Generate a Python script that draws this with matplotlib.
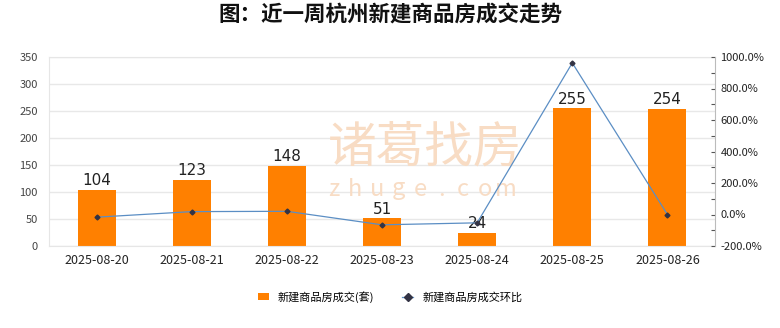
import matplotlib.pyplot as plt
import numpy as np
from matplotlib.ticker import FuncFormatter, MultipleLocator

plt.rcParams['font.family'] = ['Noto Sans CJK SC', 'DejaVu Sans']

dates = ["2025-08-20", "2025-08-21", "2025-08-22", "2025-08-23",
         "2025-08-24", "2025-08-25", "2025-08-26"]
deals = [104, 123, 148, 51, 24, 255, 254]
ratio = [-17.0, 18.3, 20.3, -65.5, -52.9, 962.5, -0.4]

fig = plt.figure(figsize=(7.8, 3.28), dpi=100)
ax = fig.add_axes([49 / 780, 1 - 246 / 328, (715 - 49) / 780, (246 - 57) / 328])
ax2 = ax.twinx()

x = np.arange(len(dates))
ax.bar(x, deals, width=0.4, color="#ff8000", zorder=2, label="新建商品房成交(套)")
for xi, v in zip(x, deals):
    ax.text(xi, v + 3, str(v), ha="center", va="bottom", fontsize=11,
            color="#222222", family="DejaVu Sans", zorder=4)

ax.set_xlim(-0.5, 6.5)
ax.set_ylim(0, 350)
ax.yaxis.set_major_locator(MultipleLocator(50))
ax.set_xticks(x)
ax.set_xticklabels(dates, fontsize=9, color="#222222")
ax.tick_params(axis="y", labelsize=8, colors="#444444", length=0, pad=8)
ax.tick_params(axis="x", length=0, pad=6)
ax.grid(axis="y", color="#e8e8e8", linewidth=1, zorder=0)
ax.set_axisbelow(True)
for s in ["left", "top", "bottom"]:
    ax.spines[s].set_color("#e6e6e6")
ax.spines["right"].set_visible(False)

# watermark, behind the bars
wm = "#f8dcc4"
ax.text(328 / 780, 1 - 148 / 328, "诸葛找房", transform=fig.transFigure,
        fontsize=35, color=wm, ha="left", va="center", zorder=1)
for i, ch in enumerate("zhuge.com"):
    ax.text((334 + i * 21.5) / 780, 1 - 189 / 328, ch, transform=fig.transFigure,
            fontsize=17, color=wm, ha="center", va="center", zorder=1)

ax2.plot(x, ratio, color="#5b8ec4", linewidth=0.9, marker="D", markersize=2.5,
         markerfacecolor="#333344", markeredgecolor="#333344", zorder=3,
         label="新建商品房成交环比")
ax2.set_ylim(-200, 1000)
ax2.yaxis.set_major_locator(MultipleLocator(200))
ax2.yaxis.set_minor_locator(MultipleLocator(100))
ax2.yaxis.set_major_formatter(FuncFormatter(lambda v, p: f"{v:.1f}%"))
ax2.tick_params(axis="y", which="both", direction="in", length=3, width=0.8,
                colors="#555555", labelsize=8, pad=4)
ax2.tick_params(axis="y", labelcolor="#222222")
for s in ["left", "top", "bottom"]:
    ax2.spines[s].set_visible(False)
ax2.spines["right"].set_color("#bbbbbb")

fig.suptitle("图：近一周杭州新建商品房成交走势", fontsize=15.5, fontweight="bold",
             y=0.99, color="#111111")

h1, l1 = ax.get_legend_handles_labels()
h2, l2 = ax2.get_legend_handles_labels()
fig.legend(h1 + h2, l1 + l2, loc="center", bbox_to_anchor=(0.5, 1 - 297 / 328),
           ncol=2, frameon=False, fontsize=8, handlelength=1, handleheight=0.6,
           columnspacing=2.5, markerscale=1.5)

fig.savefig("out.png", dpi=100)
